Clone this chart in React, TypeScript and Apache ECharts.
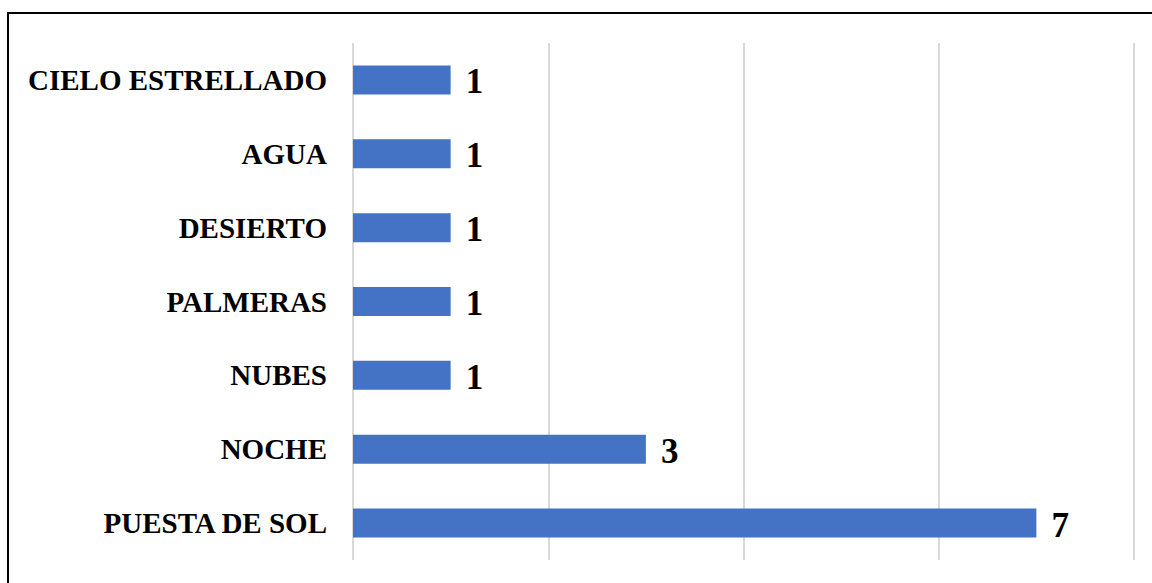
import React, { useEffect, useRef } from "react";
import * as echarts from "echarts";

const categories = [
  "PUESTA DE SOL",
  "NOCHE",
  "NUBES",
  "PALMERAS",
  "DESIERTO",
  "AGUA",
  "CIELO ESTRELLADO",
];
const values = [7, 3, 1, 1, 1, 1, 1];

export default function App() {
  const ref = useRef<HTMLDivElement>(null);
  useEffect(() => {
    if (!ref.current) return;
    const chart = echarts.init(ref.current, null, { renderer: "svg" });
    chart.setOption({
      animation: false,
      backgroundColor: "#ffffff",
      graphic: [
        {
          type: "rect",
          shape: { x: 8, y: 13, width: 1300, height: 800 },
          style: { fill: "none", stroke: "#000000", lineWidth: 2 },
          silent: true,
          z: 100,
        },
      ],
      grid: { left: 353, right: 18, top: 43, bottom: 23, containLabel: false },
      xAxis: {
        type: "value",
        min: 0,
        max: 8,
        interval: 2,
        axisLabel: { show: false },
        axisLine: { show: false },
        axisTick: { show: false },
        splitLine: { show: true, lineStyle: { color: "#d9d9d9", width: 2 } },
      },
      yAxis: {
        type: "category",
        data: categories,
        axisLine: { show: false },
        axisTick: { show: false },
        axisLabel: {
          margin: 26,
          color: "#000000",
          fontFamily: "Liberation Serif",
          fontWeight: "bold",
          fontSize: 29,
        },
      },
      series: [
        {
          type: "bar",
          data: values,
          barWidth: 29,
          itemStyle: { color: "#4472C4" },
          label: {
            show: true,
            position: "right",
            distance: 15,
            offset: [0, 2],
            color: "#000000",
            fontFamily: "Liberation Serif",
            fontWeight: "bold",
            fontSize: 35,
          },
        },
      ],
    });
    return () => chart.dispose();
  }, []);
  return (
    <div
      ref={ref}
      style={{ position: "fixed", left: 0, top: 0, width: 1152, height: 583 }}
    />
  );
}
